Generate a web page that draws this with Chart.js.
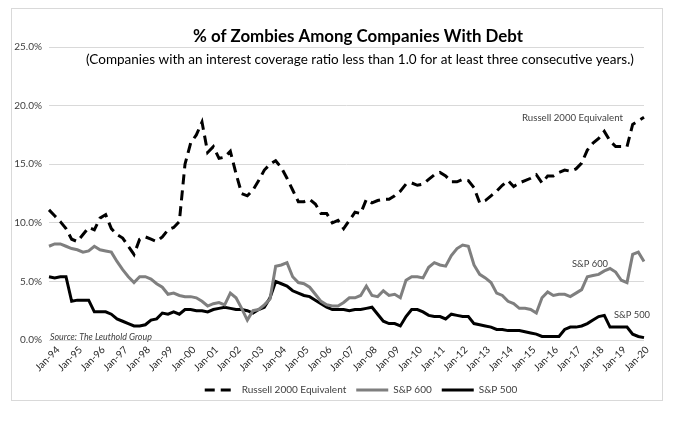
<!DOCTYPE html>
<html>
<head>
<meta charset="utf-8">
<script src="https://cdn.jsdelivr.net/npm/chart.js@4.4.1/dist/chart.umd.min.js"></script>
<style>
  html, body { margin: 0; padding: 0; background: #fff; overflow: hidden; }
  #frame { position: absolute; left: 11px; top: 8px; width: 650px; height: 391px; border: 1px solid #d9d9d9; }
  canvas { display: block; }
</style>
</head>
<body>
<div id="frame"><canvas id="chart"></canvas></div>
<script>
// quarterly readings, Jan-94 .. Apr-20
const years = ['94','95','96','97','98','99','00','01','02','03','04','05','06','07',
               '08','09','10','11','12','13','14','15','16','17','18','19','20'];
const quarterMonths = ['Jan', 'Apr', 'Jul', 'Oct'];
const lastCategory = 'Apr-20';

const russell2000 = [
  11.1, 10.6, 10.1, 9.5,   8.6, 8.4, 9.0, 9.6,     9.4, 10.4, 10.7, 9.5,    9.0, 8.7, 8.0, 7.3,
  8.6, 8.8, 8.6, 8.4,      8.8, 9.4, 9.6, 10.1,    15.0, 16.8, 17.5, 18.6,  16.0, 16.5, 15.5, 15.6,
  16.1, 14.2, 12.5, 12.3,  12.8, 13.6, 14.5, 15.0, 15.3, 14.7, 13.8, 12.8,  11.8, 11.8, 12.0, 11.6,
  10.8, 10.8, 10.0, 10.2,  9.5, 10.2, 10.9, 10.8,  12.0, 11.7, 11.9, 12.0,  12.0, 12.3, 12.7, 13.3,
  13.4, 13.2, 13.3, 13.7,  14.1, 14.3, 14.0, 13.5, 13.5, 13.7, 13.6, 13.0,  11.7, 11.9, 12.3, 12.7,
  13.2, 13.6, 13.1, 13.4,  13.6, 13.8, 14.1, 13.4, 14.0, 14.0, 14.3, 14.5,  14.4, 14.6, 15.1, 16.2,
  16.8, 17.2, 17.8, 17.0,  16.5, 16.5, 16.5, 18.4, 18.7, 19.0
];
const sp600 = [
  8.0, 8.2, 8.2, 8.0,  7.8, 7.7, 7.5, 7.6,  8.0, 7.7, 7.6, 7.5,  6.7, 6.0, 5.4, 4.9,
  5.4, 5.4, 5.2, 4.8,  4.5, 3.9, 4.0, 3.8,  3.7, 3.7, 3.6, 3.3,  2.9, 3.1, 3.2, 3.0,
  4.0, 3.6, 2.7, 1.7,  2.5, 2.6, 3.0, 3.5,  6.3, 6.4, 6.6, 5.4,  4.9, 4.8, 4.5, 3.9,
  3.3, 3.0, 2.9, 2.9,  3.2, 3.6, 3.6, 3.8,  4.6, 3.8, 3.7, 4.2,  3.8, 3.9, 3.6, 5.1,
  5.4, 5.4, 5.3, 6.2,  6.6, 6.4, 6.3, 7.2,  7.8, 8.1, 8.0, 6.4,  5.6, 5.3, 4.9, 4.0,
  3.8, 3.3, 3.1, 2.7,  2.7, 2.6, 2.3, 3.6,  4.1, 3.8, 3.9, 3.9,  3.7, 4.0, 4.3, 5.4,
  5.5, 5.6, 5.9, 6.1,  5.8, 5.1, 4.9, 7.3,  7.5, 6.7
];
const sp500 = [
  5.4, 5.3, 5.4, 5.4,  3.3, 3.4, 3.4, 3.4,  2.4, 2.4, 2.4, 2.2,  1.8, 1.6, 1.4, 1.2,
  1.2, 1.3, 1.7, 1.8,  2.3, 2.2, 2.4, 2.2,  2.6, 2.6, 2.5, 2.5,  2.4, 2.6, 2.7, 2.8,
  2.7, 2.6, 2.6, 2.5,  2.3, 2.6, 2.8, 3.6,  5.0, 4.8, 4.6, 4.2,  4.0, 3.8, 3.7, 3.4,
  3.1, 2.8, 2.6, 2.6,  2.6, 2.5, 2.6, 2.6,  2.7, 2.8, 2.2, 1.6,  1.4, 1.4, 1.2, 2.0,
  2.6, 2.6, 2.4, 2.1,  2.0, 2.0, 1.8, 2.2,  2.1, 2.0, 2.0, 1.4,  1.3, 1.2, 1.1, 0.9,
  0.9, 0.8, 0.8, 0.8,  0.7, 0.6, 0.5, 0.3,  0.3, 0.3, 0.3, 0.9,  1.1, 1.1, 1.2, 1.4,
  1.7, 2.0, 2.1, 1.1,  1.1, 1.1, 1.1, 0.5,  0.3, 0.2
];
const yTicks = [0, 5, 10, 15, 20, 25];

const categories = [];
years.forEach(y => quarterMonths.forEach(m => categories.push(m + '-' + y)));
categories.splice(categories.indexOf(lastCategory) + 1);

const fontFamily = "Lato, 'Open Sans', sans-serif";

// draw text squeezed/stretched to the width it has in the picture
function fitText(ctx, text, font, width, x, y, align) {
  ctx.font = font.style + ' ' + font.weight + ' 20px ' + fontFamily;
  const size = 20 * width / ctx.measureText(text).width;
  ctx.font = font.style + ' ' + font.weight + ' ' + size.toFixed(2) + 'px ' + fontFamily;
  ctx.textAlign = align;
  ctx.textBaseline = 'middle';
  ctx.fillStyle = font.color;
  ctx.fillText(text, x, y);
}

const textPlugin = {
  id: 'texts',
  afterLayout(chart) {
    // legend sits right of the canvas centre in the original
    chart.legend.left += 33;
    chart.legend.right += 33;
  },
  afterDraw(chart) {
    const ctx = chart.ctx;
    ctx.save();
    fitText(ctx, '% of Zombies Among Companies With Debt',
      { style: 'normal', weight: 'bold', color: '#000' }, 330, 346, 28, 'center');
    fitText(ctx, '(Companies with an interest coverage ratio less than 1.0 for at least three consecutive years.)',
      { style: 'normal', weight: 'normal', color: '#000' }, 548, 348, 51, 'center');
    fitText(ctx, 'Source: The Leuthold Group',
      { style: 'italic', weight: 'normal', color: '#404040' }, 102, 38, 328, 'left');
    fitText(ctx, 'Russell 2000 Equivalent',
      { style: 'normal', weight: 'normal', color: '#404040' }, 101, 510, 109, 'left');
    fitText(ctx, 'S&P 600',
      { style: 'normal', weight: 'normal', color: '#404040' }, 36, 560, 255, 'left');
    fitText(ctx, 'S&P 500',
      { style: 'normal', weight: 'normal', color: '#404040' }, 36, 602, 306, 'left');
    ctx.restore();
  }
};

new Chart(document.getElementById('chart'), {
  type: 'line',
  data: {
    labels: categories,
    datasets: [
      { label: 'Russell 2000 Equivalent', data: russell2000, borderColor: '#000', borderWidth: 3,
        borderDash: [10, 6], pointRadius: 0, pointStyle: 'line', tension: 0, fill: false },
      { label: 'S&P 600', data: sp600, borderColor: '#7f7f7f', borderWidth: 3,
        pointRadius: 0, pointStyle: 'line', tension: 0, fill: false },
      { label: 'S&P 500', data: sp500, borderColor: '#000', borderWidth: 3,
        pointRadius: 0, pointStyle: 'line', tension: 0, fill: false }
    ]
  },
  options: {
    responsive: true,
    maintainAspectRatio: false,
    animation: false,
    layout: { padding: { top: 38, right: 18, bottom: -5, left: 0 } },
    plugins: {
      title: { display: false },
      tooltip: { enabled: false },
      legend: {
        position: 'bottom',
        labels: {
          usePointStyle: true,
          pointStyle: 'line',
          pointStyleWidth: 32,
          boxHeight: 10,
          padding: 10,
          color: '#404040',
          font: { family: fontFamily, size: 10 },
          // keep the dash pattern in the legend sample
          generateLabels: chart => Chart.defaults.plugins.legend.labels.generateLabels(chart)
            .map((item, i) => ({ ...item, lineDash: chart.data.datasets[i].borderDash || [] }))
        }
      }
    },
    scales: {
      x: {
        afterFit: scale => { scale.height = 35; },
        grid: { display: false, drawTicks: false },
        border: { display: false },
        ticks: {
          autoSkip: false,
          minRotation: 45,
          maxRotation: 45,
          padding: 4,
          labelOffset: 9,
          color: '#262626',
          font: { family: fontFamily, size: 10 },
          callback: function (value) {
            const label = this.getLabelForValue(value);
            return label.startsWith('Jan') ? label : null;
          }
        }
      },
      y: {
        min: 0,
        max: 25,
        afterFit: scale => { scale.width = 37; },
        afterBuildTicks: scale => { scale.ticks = yTicks.map(v => ({ value: v })); },
        grid: { color: '#d9d9d9', lineWidth: 1, drawTicks: false },
        border: { display: false },
        ticks: {
          padding: 7,
          color: '#404040',
          font: { family: fontFamily, size: 10 },
          callback: v => v.toFixed(1) + '%'
        }
      }
    }
  },
  plugins: [textPlugin]
});
</script>
</body>
</html>
